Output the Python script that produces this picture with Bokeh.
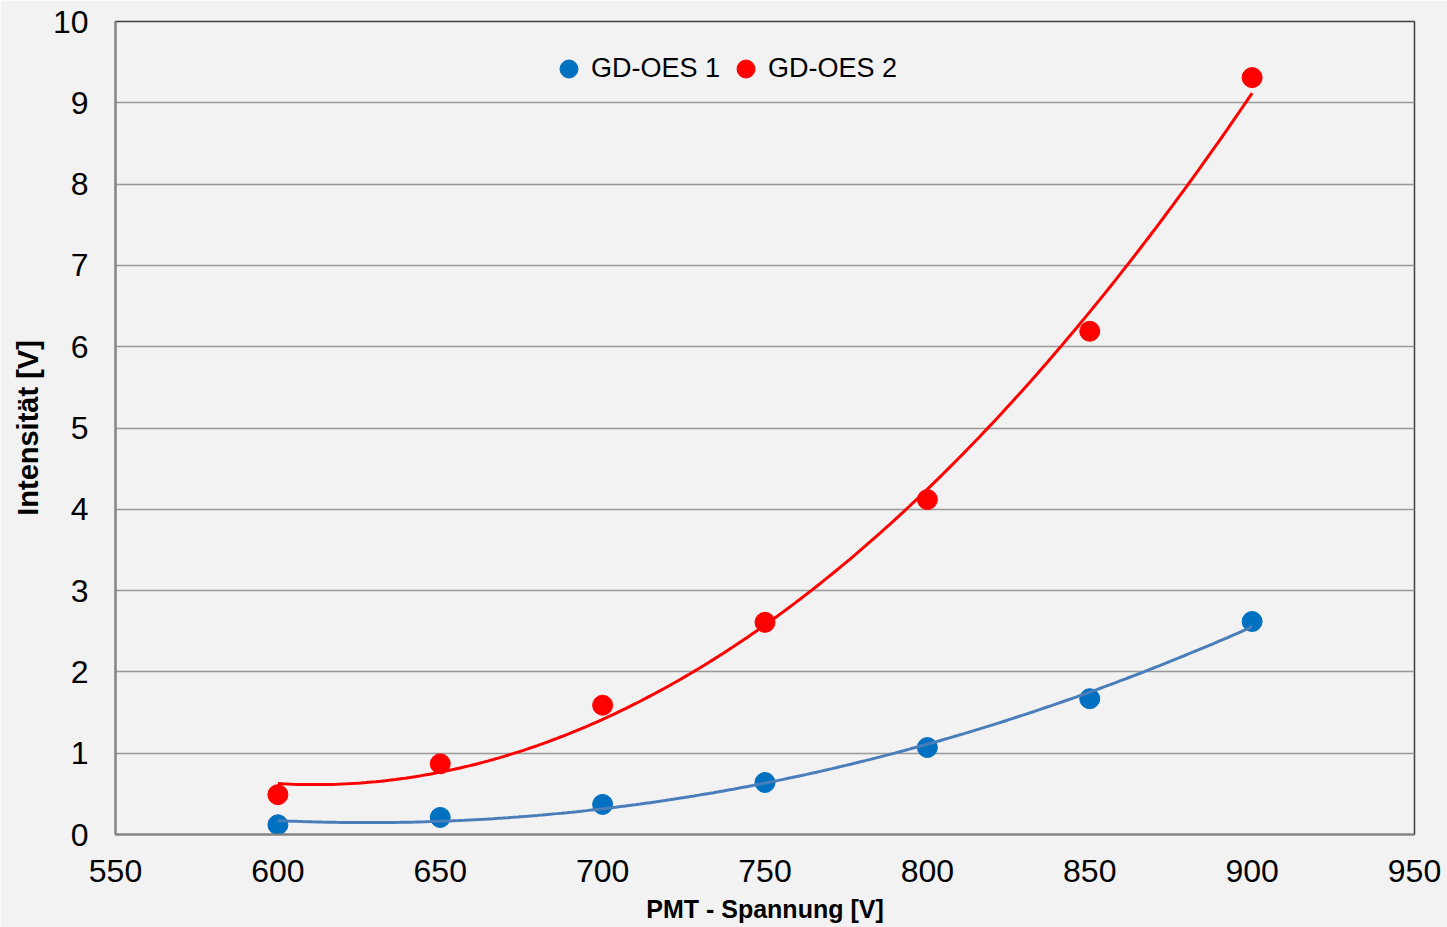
import numpy as np
from bokeh.plotting import figure
from bokeh.models import Legend, LegendItem, FixedTicker
from bokeh.embed import file_html
from bokeh.resources import INLINE

# Data
voltage = [600, 650, 700, 750, 800, 850, 900]
gd_oes_1 = [0.12, 0.21, 0.37, 0.64, 1.07, 1.67, 2.62]
gd_oes_2 = [0.49, 0.87, 1.59, 2.61, 4.12, 6.19, 9.31]
series_names = ["GD-OES 1", "GD-OES 2"]
x_ticks = [550, 600, 650, 700, 750, 800, 850, 900, 950]
y_ticks = list(range(0, 11))

FONT = "Liberation Sans"
BG = "#f2f2f2"

p = figure(width=1447, height=927, output_backend="svg", toolbar_location=None,
           x_range=(550, 950), y_range=(0, 10),
           min_border_left=115, min_border_right=33, min_border_top=21, min_border_bottom=93)
p.background_fill_color = BG
p.border_fill_color = BG
p.outline_line_color = "#404040"
p.outline_line_width = 1.5

# axes
p.xaxis.ticker = FixedTicker(ticks=x_ticks)
p.yaxis.ticker = FixedTicker(ticks=y_ticks)
for ax in (p.xaxis[0], p.yaxis[0]):
    ax.major_tick_line_color = None
    ax.minor_tick_line_color = None
    ax.major_tick_out = 0
    ax.major_tick_in = 0
    ax.minor_tick_out = 0
    ax.minor_tick_in = 0
    ax.axis_line_color = "#808080"
    ax.axis_line_width = 2
    ax.major_label_text_font = FONT
    ax.major_label_text_font_size = "32px"
    ax.major_label_text_color = "black"
    ax.axis_label_text_font = FONT
    ax.axis_label_text_font_style = "bold"
    ax.axis_label_text_color = "black"
p.xaxis.axis_label = "PMT - Spannung [V]"
p.yaxis.axis_label = "Intensität [V]"
p.xaxis.axis_label_text_font_size = "25px"
p.yaxis.axis_label_text_font_size = "29px"
p.xaxis.major_label_standoff = 25
p.yaxis.major_label_standoff = 27
p.xaxis.axis_label_standoff = 10
p.yaxis.axis_label_standoff = 6

p.xgrid.grid_line_color = None
p.ygrid.grid_line_color = "#999999"
p.ygrid.grid_line_width = 1.5

# markers
s1 = p.scatter(voltage, gd_oes_1, size=20, color="#0070C0")
s2 = p.scatter(voltage, gd_oes_2, size=20, color="#FF0000")

# polynomial (order 2) trend lines derived from the data
xs = np.linspace(min(voltage), max(voltage), 200)
c1 = np.polyfit(voltage, gd_oes_1, 2)
c2 = np.polyfit(voltage, gd_oes_2, 2)
p.line(xs, np.polyval(c1, xs), line_color="#4A7EBB", line_width=3)
p.line(xs, np.polyval(c2, xs), line_color="#FF0000", line_width=3)

legend = Legend(items=[LegendItem(label=series_names[0], renderers=[s1]),
                       LegendItem(label=series_names[1], renderers=[s2])],
                orientation="horizontal", location=(431, 743),
                background_fill_alpha=0, border_line_color=None,
                label_text_font=FONT, label_text_font_size="27px",
                label_text_color="black",
                glyph_width=45, glyph_height=45, spacing=3,
                label_standoff=0, padding=0, margin=0)
p.add_layout(legend, "center")

open("out.html", "w").write(file_html(p, INLINE))
